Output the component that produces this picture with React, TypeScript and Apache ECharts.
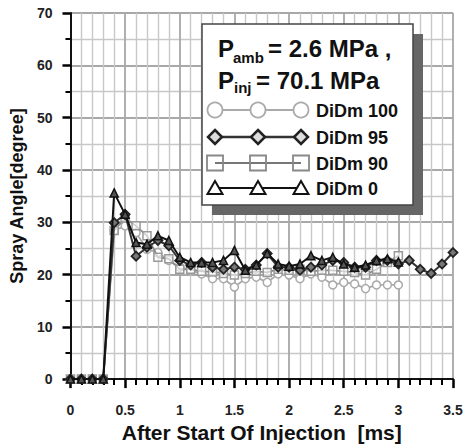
import React, { useEffect, useRef } from "react";
import * as echarts from "echarts";

const times = [0, 0.1, 0.2, 0.3, 0.4, 0.5, 0.6, 0.7, 0.8, 0.9, 1.0, 1.1, 1.2, 1.3, 1.4, 1.5, 1.6, 1.7, 1.8, 1.9, 2.0, 2.1, 2.2, 2.3, 2.4, 2.5, 2.6, 2.7, 2.8, 2.9, 3.0, 3.1, 3.2, 3.3, 3.4, 3.5];

const didm100 = [0, 0, 0, 0, 28.4, 29.3, 28, 24.8, 24.2, 22.7, 21.4, 20.8, 20.1, 19.2, 19.2, 17.6, 19.2, 19.5, 18.5, 20.1, 19.9, 19.2, 20.1, 19.5, 18, 18.5, 18.2, 17.3, 18, 18, 18];
const didm95 = [0, 0, 0, 0, 29.9, 31.5, 23.5, 25.2, 26.5, 25.5, 22.7, 21.8, 22.3, 21.4, 21, 21.4, 21, 21.8, 24, 21.4, 21.4, 20.8, 21.4, 21.8, 22.7, 22.3, 21.4, 21.4, 22.7, 22.7, 22, 22.7, 21, 20.2, 22, 24.2];
const didm90 = [0, 0, 0, 0, 28.4, 30.8, 29.3, 27.4, 23.3, 23, 21, 21, 20.6, 20.5, 20.2, 19.9, 20.2, 20.6, 20.4, 21, 20.8, 21, 20.6, 20.8, 20.8, 20.6, 20.4, 19.9, 21, 22.3, 23.6];
const didm0 = [0, 0, 0, 0, 35.6, 31.5, 26.1, 25.8, 27.4, 26.5, 23.3, 22.3, 22.3, 22.3, 22.7, 24.6, 20.8, 21.8, 24, 22, 21.6, 22, 23.6, 22.7, 23.3, 22, 21.4, 21.8, 22.7, 23, 22.4];

const seriesNames = ["DiDm 100", "DiDm 95", "DiDm 90", "DiDm 0"];
const titleLine1 = { main: "P", sub: "amb", rest: "= 2.6 MPa ," };
const titleLine2 = { main: "P", sub: "inj", rest: "= 70.1 MPa" };
const xTitle = "After Start Of Injection  [ms]";
const yTitle = "Spray Angle[degree]";

const FONT = '"Liberation Sans", Arial, Helvetica, sans-serif';

function pairs(vals: number[]) {
  return vals.map((v, i) => [times[i], v]);
}

export default function App() {
  const ref = useRef<HTMLDivElement>(null);
  useEffect(() => {
    if (!ref.current) return;
    const chart = echarts.init(ref.current, undefined, { renderer: "svg" });

    const txt = (text: string, x: number, y: number, size: number) => ({
      type: "text",
      z: 100,
      style: {
        text,
        x,
        y,
        font: `bold ${size}px ${FONT}`,
        fill: "#111",
        align: "left",
        verticalAlign: "middle",
      },
    });

    const mx = [215, 258, 301];
    const rowY = [110, 137, 163, 188];
    const legendEls: any[] = [];
    legendEls.push({ type: "line", z: 100, shape: { x1: mx[0], y1: rowY[0], x2: mx[2], y2: rowY[0] }, style: { stroke: "#aaa", lineWidth: 2 } });
    mx.forEach((x) => legendEls.push({ type: "circle", z: 101, shape: { cx: x, cy: rowY[0], r: 7.5 }, style: { fill: "#fff", stroke: "#aaa", lineWidth: 1.8 } }));
    legendEls.push({ type: "line", z: 100, shape: { x1: mx[0], y1: rowY[1], x2: mx[2], y2: rowY[1] }, style: { stroke: "#333", lineWidth: 2.5 } });
    mx.forEach((x) => legendEls.push({ type: "polygon", z: 101, shape: { points: [[x, rowY[1] - 7], [x + 7, rowY[1]], [x, rowY[1] + 7], [x - 7, rowY[1]]] }, style: { fill: "#ddd", stroke: "#222", lineWidth: 2.5 } }));
    legendEls.push({ type: "line", z: 100, shape: { x1: mx[0], y1: rowY[2], x2: mx[2], y2: rowY[2] }, style: { stroke: "#777", lineWidth: 2 } });
    mx.forEach((x) => legendEls.push({ type: "rect", z: 101, shape: { x: x - 8, y: rowY[2] - 7.5, width: 16, height: 15 }, style: { fill: "none", stroke: "#888", lineWidth: 1.8 } }));
    legendEls.push({ type: "line", z: 100, shape: { x1: mx[0], y1: rowY[3], x2: mx[2], y2: rowY[3] }, style: { stroke: "#111", lineWidth: 2 } });
    mx.forEach((x) => legendEls.push({ type: "polygon", z: 101, shape: { points: [[x, rowY[3] - 7], [x + 7.5, rowY[3] + 6], [x - 7.5, rowY[3] + 6]] }, style: { fill: "#fff", stroke: "#111", lineWidth: 2 } }));
    seriesNames.forEach((n, i) => legendEls.push(txt(n, 316, rowY[i] + 1, 18)));

    const option: any = {
      animation: false,
      backgroundColor: "#fff",
      textStyle: { fontFamily: FONT },
      grid: { left: 70, right: 13, top: 13, bottom: 65, containLabel: false },
      xAxis: {
        type: "value",
        min: 0,
        max: 3.5,
        interval: 0.5,
        name: xTitle,
        nameLocation: "middle",
        nameGap: 37,
        nameTextStyle: { fontSize: 21, fontWeight: "bold", color: "#111", fontFamily: FONT },
        axisLine: { show: true, onZero: false, lineStyle: { color: "#111", width: 2 } },
        axisTick: { show: true, inside: false, length: 9, lineStyle: { color: "#000000", width: 2.5 } },
        minorTick: { show: true, splitNumber: 5, length: 6, lineStyle: { color: "#000000", width: 2 } },
        axisLabel: { margin: 24, fontSize: 14, fontWeight: "bold", color: "#222", fontFamily: FONT },
        splitLine: { show: true, lineStyle: { color: "#a8a8a8", width: 1.8 } },
        minorSplitLine: { show: true, lineStyle: { color: "#c8c8c8", width: 1.4 } },
      },
      yAxis: {
        type: "value",
        min: 0,
        max: 70,
        interval: 10,
        name: yTitle,
        nameLocation: "middle",
        nameGap: 44,
        nameTextStyle: { fontSize: 18, fontWeight: "bold", color: "#111", fontFamily: FONT },
        axisLine: { show: true, onZero: false, lineStyle: { color: "#111", width: 2 } },
        axisTick: { show: true, inside: false, length: 8, lineStyle: { color: "#000000", width: 2.5 } },
        minorTick: { show: true, splitNumber: 2, length: 5, lineStyle: { color: "#000000", width: 2 } },
        axisLabel: { margin: 18, fontSize: 14, fontWeight: "bold", color: "#222", fontFamily: FONT },
        splitLine: { show: true, lineStyle: { color: "#a8a8a8", width: 1.8 } },
        minorSplitLine: { show: true, lineStyle: { color: "#c8c8c8", width: 1.4 } },
      },
      series: [
        {
          name: seriesNames[0],
          type: "line",
          data: pairs(didm100),
          clip: false,
          symbol: "circle",
          symbolSize: 8,
          lineStyle: { color: "#aaa", width: 1.8 },
          itemStyle: { color: "#fff", borderColor: "#aaa", borderWidth: 1.5 },
          z: 2,
        },
        {
          name: seriesNames[2],
          type: "line",
          data: pairs(didm90),
          clip: false,
          symbol: "rect",
          symbolSize: 8,
          lineStyle: { color: "#888", width: 1.8 },
          itemStyle: { color: "rgba(255,255,255,0.6)", borderColor: "#999", borderWidth: 1.5 },
          z: 3,
        },
        {
          name: seriesNames[1],
          type: "line",
          data: pairs(didm95),
          clip: false,
          symbol: "diamond",
          symbolSize: 9,
          lineStyle: { color: "#333", width: 2 },
          itemStyle: { color: "#777", borderColor: "#222", borderWidth: 1.8 },
          z: 4,
        },
        {
          name: seriesNames[3],
          type: "line",
          data: pairs(didm0),
          clip: false,
          symbol: "triangle",
          symbolSize: 8,
          lineStyle: { color: "#111", width: 2 },
          itemStyle: { color: "#555", borderColor: "#111", borderWidth: 1.5 },
          z: 5,
        },
      ],
      graphic: [
        { type: "rect", z: 99, shape: { x: 212, y: 34, width: 211, height: 181 }, style: { fill: "#666" } },
        { type: "rect", z: 99, shape: { x: 202, y: 24, width: 211, height: 181 }, style: { fill: "#fff", stroke: "#444", lineWidth: 1.5 } },
        txt(titleLine1.main, 218, 48, 24),
        txt(titleLine1.sub, 233, 57, 15),
        txt(titleLine1.rest, 268, 48, 24),
        txt(titleLine2.main, 218, 80, 24),
        txt(titleLine2.sub, 234, 87, 15),
        txt(titleLine2.rest, 256, 80, 24),
        ...legendEls,
      ],
    };
    chart.setOption(option);
    return () => chart.dispose();
  }, []);
  return (
    <div
      ref={ref}
      style={{ position: "fixed", left: 0, top: 0, width: 466, height: 448, background: "#fff" }}
    />
  );
}
